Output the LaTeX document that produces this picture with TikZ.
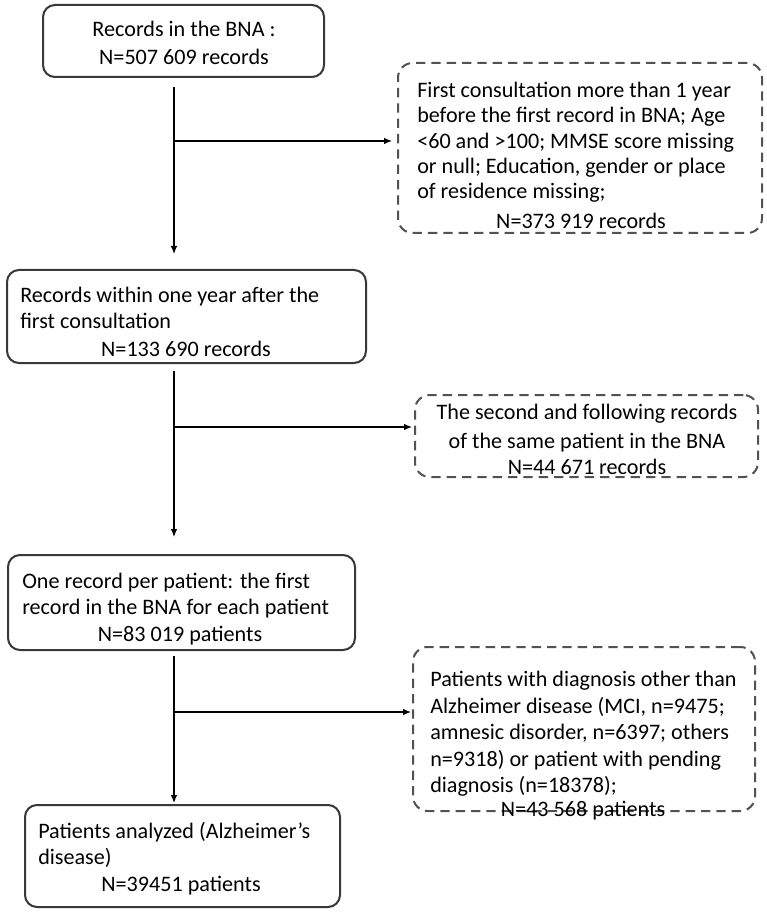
\documentclass[tikz,border=0pt]{standalone}
\usepackage{fontspec}
\setmainfont{Carlito}
\usetikzlibrary{arrows.meta,calc,fit}
\begin{document}
\begin{tikzpicture}[x=0.75pt,y=-0.75pt,
 box/.style={draw=black!78,line width=1.5pt,rounded corners=9pt,inner sep=0pt},
 dbox/.style={box,draw=black!68,dash pattern=on 7pt off 4.5pt,rounded corners=11pt},
 txt/.style={inner sep=0pt,font=\fontsize{16.6}{19}\selectfont,text=black},
 ln/.style={txt,anchor=base west},
 cn/.style={txt,anchor=base},
 arr/.style={draw=black,line width=0.9pt,-{Latex[length=6pt,width=5pt]}}]
\path[use as bounding box,fill=white] (0,0) rectangle (766,912);

% boxes
\node[box,fit={(43,5) (324,77)}] (b1) {};
\node[box,fit={(7,270) (366,363)}] (b2) {};
\node[box,fit={(8,555) (355,650)}] (b3) {};
\node[box,fit={(25,805) (340,907)}] (b4) {};
\node[dbox,fit={(398,63) (762,233)}] (d1) {};
\node[dbox,fit={(415,395) (758,477)}] (d2) {};
\node[dbox,fit={(413,647) (755,811)}] (d3) {};

% texts
\node[cn] (t1a) at (184,37) {Records in the BNA :};
\node[cn] (t1b) at (184,65) {N=507 609 records};

\node[ln] (t2a) at (20,303) {Records within one year after the};
\node[ln] (t2b) at (20,329) {first consultation};
\node[cn] (t2c) at (186,356) {N=133 690 records};

\node[ln] (t3a) at (22,588) {One record per patient: the first};
\node[ln] (t3b) at (22,614) {record in the BNA for each patient};
\node[cn] (t3c) at (180,641) {N=83 019 patients};

\node[ln] (t4a) at (38,838) {Patients analyzed (Alzheimer's};
\node[ln] (t4b) at (38,864) {disease)};
\node[cn] (t4c) at (181,891) {N=39451 patients};

\node[ln] (u1a) at (417,98) {First consultation more than 1 year};
\node[ln] (u1b) at (417,123) {before the first record in BNA; Age};
\node[ln] (u1c) at (417,149) {<60 and >100; MMSE score missing};
\node[ln] (u1d) at (417,174) {or null; Education, gender or place};
\node[ln] (u1e) at (417,199) {of residence missing;};
\node[cn] (u1f) at (581,229) {N=373 919 records};

\node[cn] (u2a) at (587,419) {The second and following records};
\node[cn] (u2b) at (587,448) {of the same patient in the BNA};
\node[cn] (u2c) at (587,474) {N=44 671 records};

\node[ln] (u3a) at (430,686) {Patients with diagnosis other than};
\node[ln] (u3b) at (430,713) {Alzheimer disease (MCI, n=9475;};
\node[ln] (u3c) at (430,739) {amnesic disorder, n=6397; others};
\node[ln] (u3d) at (430,766) {n=9318) or patient with pending};
\node[ln] (u3e) at (430,792) {diagnosis (n=18378);};
\node[cn] (u3f) at (583,816) {N=43 568 patients};

% connectors
\coordinate (j1) at (174,141);
\coordinate (j2) at (174,427);
\coordinate (j3) at (174,712);
\draw[arr] ($(b1.south -| j1)+(0,9)$) -- ($(b2.north -| j1)+(0,-15)$);
\draw[arr] (j1) -- ($(j1 -| d1.west)+(-5,0)$);
\draw[arr] ($(b2.south -| j2)+(0,7)$) -- ($(b3.north -| j2)+(0,-17)$);
\draw[arr] (j2) -- ($(j2 -| d2.west)+(-2,0)$);
\draw[arr] ($(b3.south -| j3)+(0,5)$) -- ($(b4.north -| j3)+(0,-1)$);
\draw[arr] (j3) -- ($(j3 -| d3.west)+(-1,0)$);
\end{tikzpicture}
\end{document}
